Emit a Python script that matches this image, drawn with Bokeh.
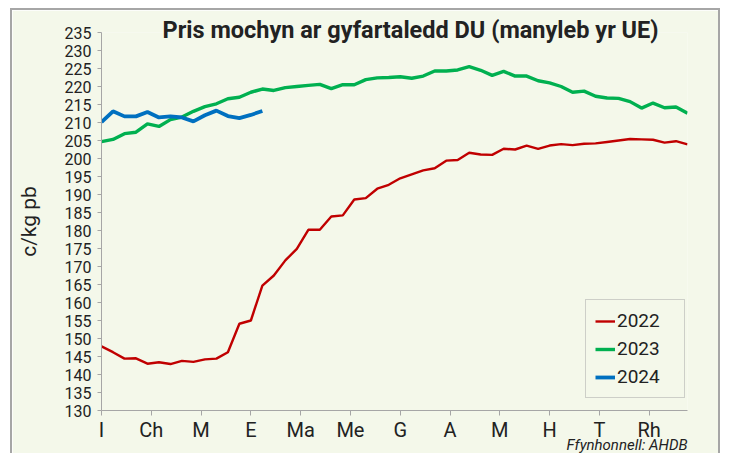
from bokeh.plotting import figure
from bokeh.models import Legend, LegendItem, FixedTicker, Range1d, Title
from bokeh.embed import file_html
from bokeh.resources import INLINE

# ---- data ----
months = ["I", "Ch", "M", "E", "Ma", "Me", "G", "A", "M", "H", "T", "Rh"]
weeks = list(range(1, 53))
price_2022 = [147.8, 146.2, 144.4, 144.5, 143.0, 143.4, 142.9, 143.8, 143.5, 144.2,
              144.4, 146.2, 154.1, 155.0, 164.7, 167.5, 171.7, 174.9, 180.2, 180.2,
              183.9, 184.2, 188.6, 189.0, 191.6, 192.7, 194.5, 195.6, 196.7, 197.3,
              199.4, 199.6, 201.6, 201.1, 201.0, 202.7, 202.5, 203.6, 202.7, 203.6,
              204.0, 203.7, 204.1, 204.2, 204.6, 205.0, 205.4, 205.3, 205.2, 204.4,
              204.8, 203.9]
price_2023 = [204.7, 205.3, 206.9, 207.3, 209.6, 208.9, 210.8, 211.5, 213.1, 214.4,
              215.2, 216.6, 217.0, 218.4, 219.3, 218.9, 219.7, 220.0, 220.3, 220.6,
              219.4, 220.5, 220.5, 221.9, 222.4, 222.5, 222.7, 222.3, 222.9, 224.3,
              224.3, 224.6, 225.5, 224.5, 223.1, 224.2, 222.9, 222.9, 221.6, 221.0,
              220.0, 218.4, 218.7, 217.3, 216.8, 216.7, 215.8, 214.0, 215.4, 214.1,
              214.3, 212.6]
price_2024 = [210.1, 213.1, 211.7, 211.7, 212.9, 211.4, 211.7, 211.4, 210.3, 212.0,
              213.3, 211.8, 211.2, 212.1, 213.2]
series = [("2022", price_2022, "#C00000", 2.4),
          ("2023", price_2023, "#00B050", 3.4),
          ("2024", price_2024, "#0070C0", 3.8)]

BG = "#F4F8EA"
FONT = "Roboto"

p = figure(width=710, height=445, output_backend="svg", toolbar_location=None,
           x_range=Range1d(0, 51 * 12 / 52), y_range=Range1d(130, 235),
           min_border_left=89, min_border_right=35, min_border_top=22, min_border_bottom=45,
           background_fill_color=BG, border_fill_color=BG)
p.styles = {"margin-left": "10px", "margin-top": "8px",
            "border-top": "2px solid #A6A6A6", "border-left": "2px solid #A6A6A6",
            "border-right": "2px solid #A6A6A6"}
p.outline_line_color = None
p.grid.grid_line_color = None

items = []
for name, vals, col, lw in series:
    xs = [(w - 1) * 12 / 52 for w in weeks[:len(vals)]]
    r = p.line(xs, vals, line_color=col, line_width=lw)
    items.append(LegendItem(label=name, renderers=[r]))

# axes
p.xaxis.ticker = FixedTicker(ticks=list(range(12)))
p.xaxis.major_label_overrides = {i: m for i, m in enumerate(months)}
p.yaxis.ticker = FixedTicker(ticks=list(range(130, 236, 5)))
for ax in (p.xaxis[0], p.yaxis[0]):
    ax.axis_line_color = "#A6A6A6"
    ax.major_tick_line_color = "#A6A6A6"
    ax.minor_tick_line_color = None
    ax.major_tick_in = 0
    ax.major_label_text_color = "#222222"
    ax.major_label_text_font = FONT
p.xaxis.major_tick_out = 5
p.xaxis.major_label_text_font_size = "20px"
p.xaxis.major_label_standoff = 2
p.yaxis.major_tick_out = 4
p.yaxis.major_label_text_font_size = "16px"
p.yaxis.major_label_standoff = 6
p.yaxis.axis_label = "c/kg pb"
p.yaxis.axis_label_text_font = FONT
p.yaxis.axis_label_text_font_style = "normal"
p.yaxis.axis_label_text_font_size = "21px"
p.yaxis.axis_label_text_color = "#222222"
p.yaxis.axis_label_standoff = 21

legend = Legend(items=items, location=(484, 12), background_fill_color=BG,
                background_fill_alpha=1, border_line_color="#A6A6A6",
                label_text_font=FONT, label_text_font_size="19px",
                label_text_color="#222222", glyph_width=20, glyph_height=20,
                label_height=20, label_width=58, spacing=5, padding=9,
                label_standoff=2)
p.add_layout(legend)

p.title.text = "Pris mochyn ar gyfartaledd DU (manyleb yr UE)"
p.title.align = "left"
p.title.offset = 61
p.title.text_font = FONT
p.title.text_font_style = "bold"
p.title.text_font_size = "23.5px"
p.title.text_color = "#222222"
p.title.standoff = -22

source = Title(text="Ffynhonnell: AHDB", align="right", vertical_align="middle",
               text_font=FONT, text_font_style="italic", text_font_size="15px",
               text_color="#222222", standoff=-20)
p.add_layout(source, "below")

open("out.html", "w").write(file_html(p, INLINE))
